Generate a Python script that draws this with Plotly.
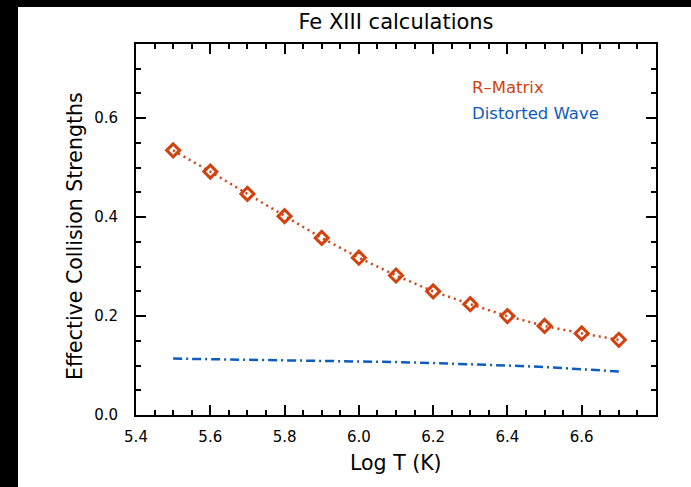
import plotly.graph_objects as go

logT = [5.5, 5.6, 5.7, 5.8, 5.9, 6.0, 6.1, 6.2, 6.3, 6.4, 6.5, 6.6, 6.7]
r_matrix = [0.535, 0.492, 0.447, 0.402, 0.358, 0.318, 0.282, 0.250, 0.224, 0.200, 0.180, 0.165, 0.152]
distorted_wave = [0.114, 0.113, 0.112, 0.111, 0.110, 0.109, 0.107, 0.105, 0.103, 0.100, 0.097, 0.093, 0.088]
x_ticks = [5.4, 5.6, 5.8, 6.0, 6.2, 6.4, 6.6]
y_ticks = [0.0, 0.2, 0.4, 0.6]

ORANGE = "#D2420E"
BLUE = "#0F5CBF"
FONT = "DejaVu Sans"

W, H = 691, 487
L, R, T, B = 136, 35, 44, 72
pw, ph = W - L - R, H - T - B


def px(x):
    return (x - L) / pw


def py(y):
    return (H - B - y) / ph


fig = go.Figure()
fig.add_trace(go.Scatter(
    x=logT, y=distorted_wave, mode="lines",
    line=dict(color=BLUE, width=2.5, dash="9px,4px,2px,4px"),
    showlegend=False))
fig.add_trace(go.Scatter(
    x=logT, y=r_matrix, mode="lines+markers",
    line=dict(color=ORANGE, width=2.5, dash="2px,4px"),
    marker=dict(symbol="diamond-open", size=10, color=ORANGE, line=dict(color=ORANGE, width=3)),
    showlegend=False))

axis_common = dict(
    showline=True, linecolor="black", linewidth=2, mirror="allticks",
    ticks="inside", ticklen=10, tickwidth=2, tickcolor="black",
    showgrid=False, zeroline=False,
    tickfont=dict(family=FONT, size=15, color="black"),
)
fig.update_xaxes(
    range=[5.4, 6.8], tickvals=x_ticks, ticktext=[f"{v:.1f}" for v in x_ticks],
    minor=dict(dtick=0.05, tick0=5.4, ticklen=5, tickwidth=1.5, tickcolor="black", ticks="inside"),
    ticklabelstandoff=7,
    **axis_common)
fig.update_yaxes(
    range=[0, 0.75], tickvals=y_ticks, ticktext=[f"{v:.1f}" for v in y_ticks],
    minor=dict(dtick=0.05, tick0=0, ticklen=5, tickwidth=1.5, tickcolor="black", ticks="inside"),
    ticklabelstandoff=13,
    **axis_common)

# white page area inside the black border
fig.add_shape(type="rect", xref="paper", yref="paper",
              x0=px(18), x1=px(W + 10), y0=py(H + 10), y1=py(7),
              fillcolor="white", line=dict(width=0), layer="below")

# axis titles
fig.add_annotation(text="Log T (K)", xref="paper", yref="paper",
                   x=px(L + pw / 2), y=py(463), xanchor="center", yanchor="middle",
                   showarrow=False, font=dict(family=FONT, size=20.5, color="black"))
fig.add_annotation(text="Effective Collision Strengths", xref="paper", yref="paper",
                   x=px(75), y=py(236), xanchor="center", yanchor="middle", textangle=-90,
                   showarrow=False, font=dict(family=FONT, size=20.5, color="black"))

# legend text
fig.add_annotation(text="R\u2013Matrix", xref="paper", yref="paper",
                   x=px(470), y=py(88), xanchor="left", yanchor="middle",
                   showarrow=False, font=dict(family=FONT, size=16.5, color=ORANGE))
fig.add_annotation(text="Distorted Wave", xref="paper", yref="paper",
                   x=px(470), y=py(113), xanchor="left", yanchor="middle",
                   showarrow=False, font=dict(family=FONT, size=16.5, color=BLUE))

fig.update_layout(
    width=W, height=H,
    margin=dict(l=L, r=R, t=T, b=B),
    paper_bgcolor="black", plot_bgcolor="rgba(0,0,0,0)",
    title=dict(text="Fe XIII calculations", x=(L + pw / 2) / W, xanchor="center",
               y=1 - 22 / H, yanchor="middle",
               font=dict(family=FONT, size=21, color="black")),
)
fig.write_html("out.html", config={"displayModeBar": False},
               post_script="document.body.style.margin='0';document.body.style.overflow='hidden';")
